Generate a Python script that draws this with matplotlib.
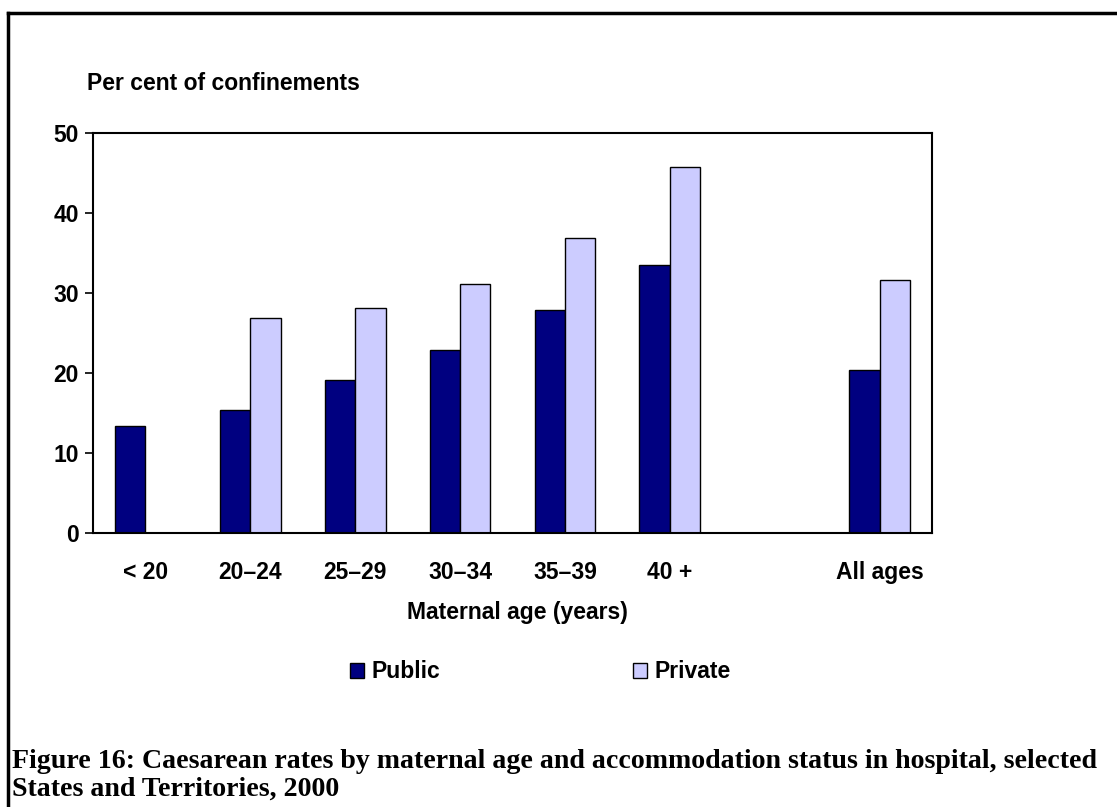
import numpy as np
import matplotlib
matplotlib.use("Agg")
import matplotlib.pyplot as plt
from matplotlib.lines import Line2D

# data
age_groups = ["< 20", "20\u201324", "25\u201329", "30\u201334", "35\u201339", "40 +", "", "All ages"]
public = [13.4, 15.4, 19.1, 22.9, 27.9, 33.4, np.nan, 20.4]
private = [np.nan, 26.9, 28.1, 31.1, 36.8, 45.7, np.nan, 31.6]
y_ticks = [0, 10, 20, 30, 40, 50]

W, H = 1117, 807
FS = 16.5
plt.rcParams["font.family"] = ["Liberation Sans", "DejaVu Sans"]

fig = plt.figure(figsize=(W / 100, H / 100), dpi=100)
ax = fig.add_axes([93 / W, 1 - 533 / H, (932 - 93) / W, (533 - 132.5) / H])

x = np.arange(len(age_groups))
bw = 0.29
ax.bar(x - bw / 2, public, width=bw, color="#000080", edgecolor="black", linewidth=1, label="Public")
ax.bar(x + bw / 2, private, width=bw, color="#CCCCFF", edgecolor="black", linewidth=1, label="Private")

ax.set_xlim(-0.5, len(age_groups) - 0.5)
ax.set_ylim(0, 50)
ax.set_yticks(y_ticks)
ax.set_xticks(x)
ax.set_xticklabels(age_groups, fontsize=FS, fontweight="bold")
ax.tick_params(axis="x", length=0, pad=20)
ax.tick_params(axis="y", length=6, width=1.2, direction="out", labelsize=FS, pad=4)
for lab in ax.get_yticklabels():
    lab.set_fontweight("bold")
for s in ax.spines.values():
    s.set_linewidth(1.5)

fig.text(87 / W, 1 - 84 / H, "Per cent of confinements", fontsize=FS, fontweight="bold",
         ha="left", va="center")
fig.text(517 / W, 1 - 612 / H, "Maternal age (years)", fontsize=FS, fontweight="bold",
         ha="center", va="center")

fig.legend(loc="center left", bbox_to_anchor=(350 / W, 1 - 672 / H), ncol=2, frameon=False,
           borderpad=0, borderaxespad=0, handlelength=0.6, handleheight=0.6,
           handletextpad=0.35, columnspacing=8.4, prop={"weight": "bold", "size": FS})

cap = dict(fontsize=20.1, fontweight="bold", family=["Liberation Serif", "DejaVu Serif"],
           ha="left", va="center")
fig.text(12 / W, 1 - 762 / H,
         "Figure 16: Caesarean rates by maternal age and accommodation status in hospital, selected", **cap)
fig.text(12 / W, 1 - 789 / H, "States and Territories, 2000", **cap)

# page frame: top and left edges visible
fig.add_artist(Line2D([8 / W, 1.01], [1 - 13 / H, 1 - 13 / H], transform=fig.transFigure,
                      color="black", linewidth=2.5))
fig.add_artist(Line2D([8 / W, 8 / W], [1 - 13 / H, -0.01], transform=fig.transFigure,
                      color="black", linewidth=2.5))

fig.savefig("out.png", dpi=100)
